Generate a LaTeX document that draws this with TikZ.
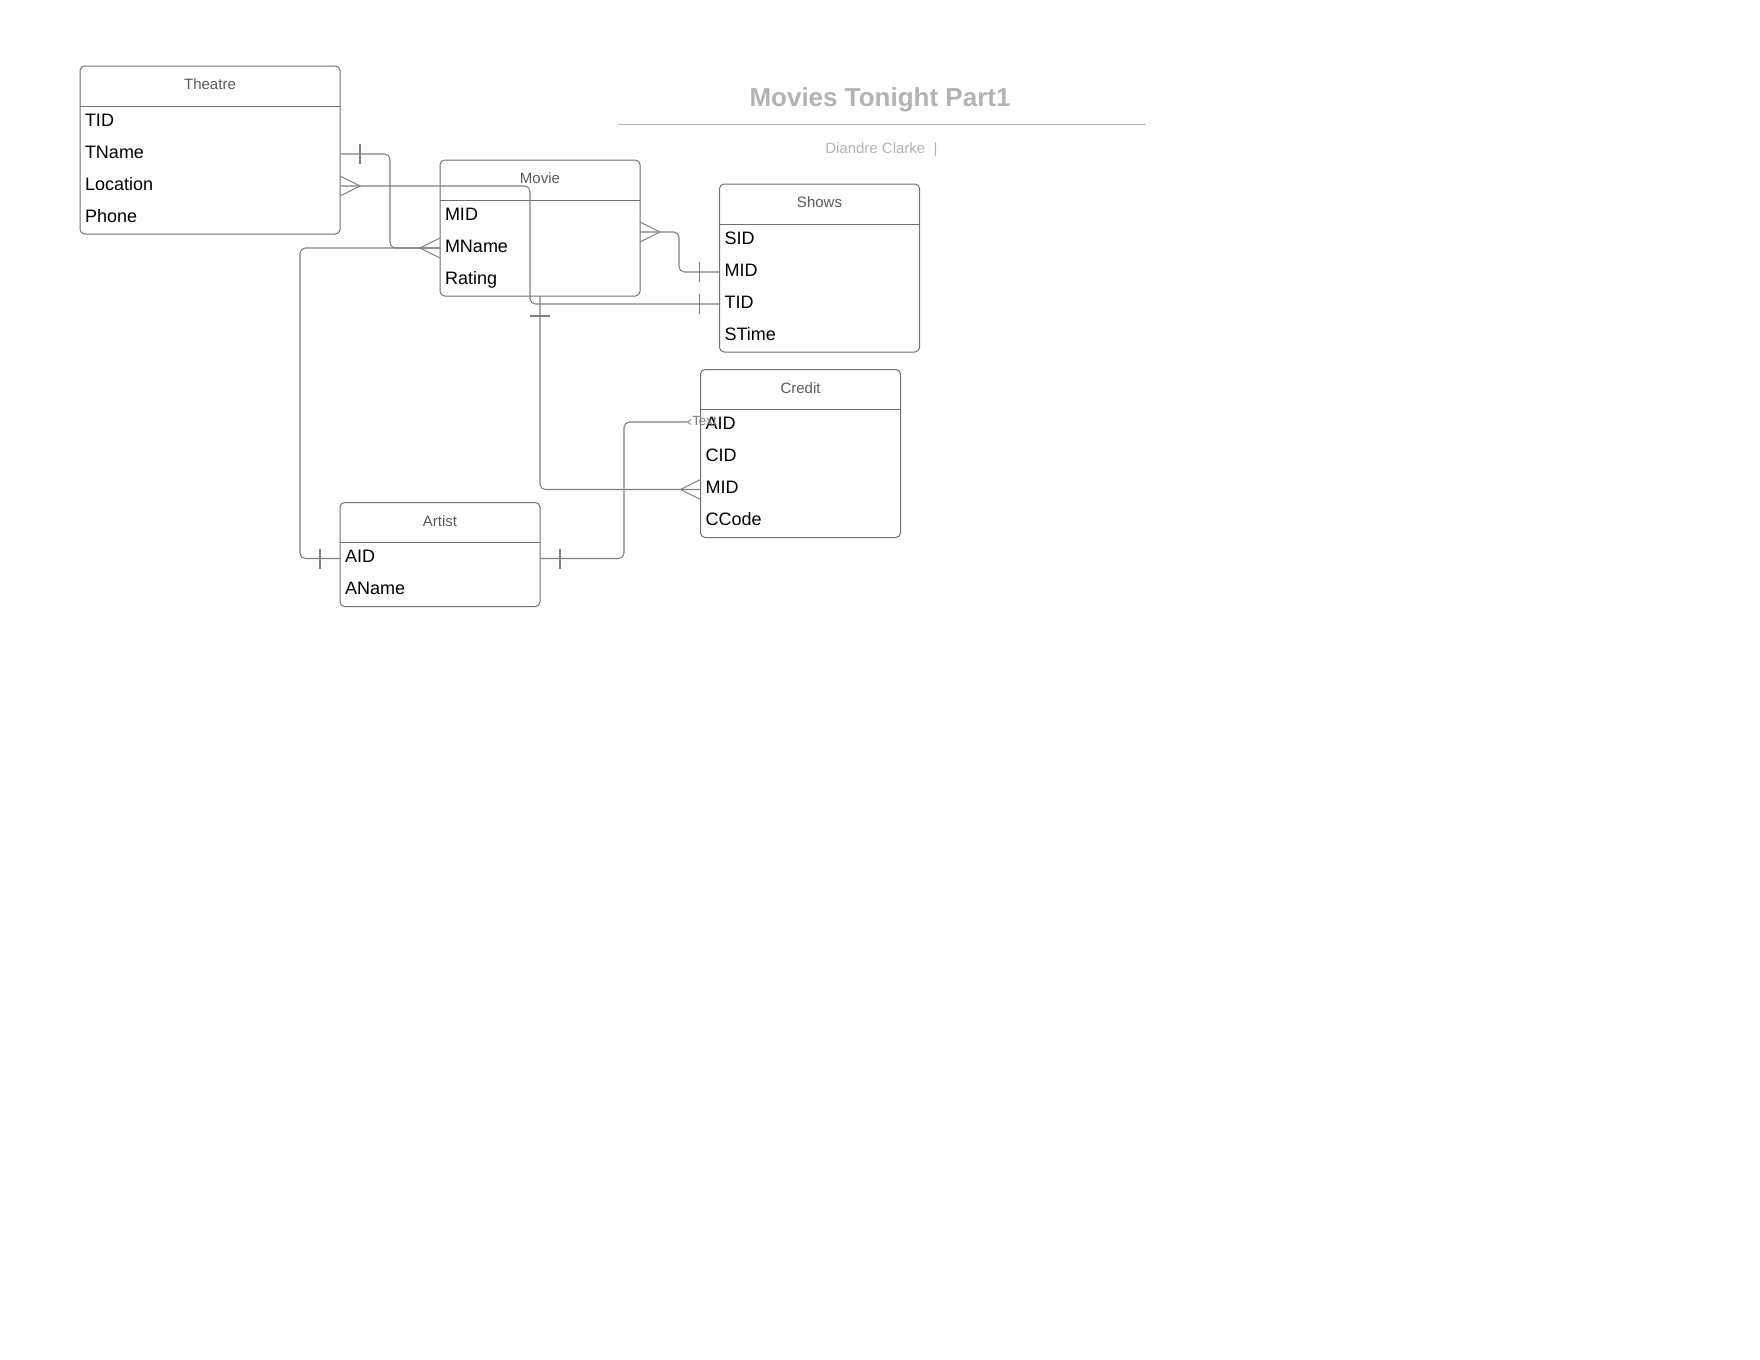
\documentclass[tikz,border=0pt]{standalone}
\usepackage{fontspec}
\setmainfont{Liberation Sans}
\usetikzlibrary{calc}
\definecolor{boxc}{HTML}{707070}
\definecolor{linec}{HTML}{808080}
\definecolor{hdrc}{HTML}{5A5A5A}
\definecolor{titc}{HTML}{B3B3B3}
\definecolor{labc}{HTML}{7A7A7A}
\begin{document}
\begin{tikzpicture}[x=0.75pt,y=-0.75pt,
  ent/.style={draw=boxc,line width=0.75pt,rounded corners=3.5pt,inner sep=0pt,outer sep=0pt,anchor=north west,fill=white},
  hdr/.style={text=hdrc,font=\fontsize{11.25}{13}\selectfont,anchor=base,inner sep=0pt},
  fieldrow/.style={anchor=north west,inner xsep=3.75pt,inner ysep=0pt,outer sep=0pt,minimum height=24pt,text height=9.5pt,text depth=3.0pt,align=left,font=\fontsize{13.5}{16}\selectfont},
  wide/.style={text width=187.5pt},
  narrow/.style={text width=142.5pt},
  sepl/.style={draw=boxc,line width=0.75pt},
  conn/.style={draw=linec,line width=0.8pt,rounded corners=4pt},
  tickmk/.style={draw=linec,line width=0.8pt},
]
\useasboundingbox (0,0) rectangle (1760,1360);

% ---------- title ----------
\node[font=\bfseries\fontsize{19.5}{22}\selectfont,text=titc,anchor=base,inner sep=0pt] (title) at (880,106.5) {Movies Tonight Part1};
\coordinate (tl) at (618,124.6);
\coordinate (tr) at (1146,124.6);
\draw[draw=titc,line width=1.1pt] (tl) -- (tr);
\node[text=titc,font=\fontsize{11.25}{13}\selectfont,anchor=base west,inner sep=0pt] (author) at (825,153) {Diandre Clarke\ \ |};

% ---------- Theatre ----------
\node[ent,minimum width=195pt,minimum height=126pt] (theatre) at (80,66) {};
\node[hdr] (theatreT) at (210,89.5) {Theatre};
\node[fieldrow,wide] (thTID) at (80,106) {TID};
\node[fieldrow,wide] (thTName) at (thTID.south west) {TName};
\node[fieldrow,wide] (thLoc) at (thTName.south west) {Location};
\node[fieldrow,wide] (thPhone) at (thLoc.south west) {Phone};
\draw[sepl] (thTID.north west) -- (thTID.north east);

% ---------- Movie ----------
\node[ent,minimum width=150pt,minimum height=102pt] (movie) at (440,160) {};
\node[hdr] (movieT) at (540,183.5) {Movie};
\node[fieldrow,narrow] (mvMID) at (440,200) {MID};
\node[fieldrow,narrow] (mvMName) at (mvMID.south west) {MName};
\node[fieldrow,narrow] (mvRating) at (mvMName.south west) {Rating};
\draw[sepl] (mvMID.north west) -- (mvMID.north east);

% ---------- Shows ----------
\node[ent,minimum width=150pt,minimum height=126pt] (shows) at (719.5,184) {};
\node[hdr] (showsT) at (819.5,207.5) {Shows};
\node[fieldrow,narrow] (shSID) at (719.5,224) {SID};
\node[fieldrow,narrow] (shMID) at (shSID.south west) {MID};
\node[fieldrow,narrow] (shTID) at (shMID.south west) {TID};
\node[fieldrow,narrow] (shSTime) at (shTID.south west) {STime};
\draw[sepl] (shSID.north west) -- (shSID.north east);

% ---------- Credit ----------
\node[ent,minimum width=150pt,minimum height=126pt] (credit) at (700.5,369.5) {};
\node[hdr] (creditT) at (800.5,393) {Credit};
\node[fieldrow,narrow] (crAID) at (700.5,409.5) {AID};
\node[fieldrow,narrow] (crCID) at (crAID.south west) {CID};
\node[fieldrow,narrow] (crMID) at (crCID.south west) {MID};
\node[fieldrow,narrow] (crCCode) at (crMID.south west) {CCode};
\draw[sepl] (crAID.north west) -- (crAID.north east);

% ---------- Artist ----------
\node[ent,minimum width=150pt,minimum height=78pt] (artist) at (340,502.5) {};
\node[hdr] (artistT) at (440,526) {Artist};
\node[fieldrow,narrow] (arAID) at (340,542.5) {AID};
\node[fieldrow,narrow] (arAName) at (arAID.south west) {AName};
\draw[sepl] (arAID.north west) -- (arAID.north east);

% ---------- connectors ----------
% Theatre.TName (one) -- Movie.MName (many)
\draw[conn] (thTName.east) -- ++(50,0) |- (mvMName.west);
\draw[tickmk] ($(thTName.east)+(20,-10)$) -- ++(0,20);
\draw[tickmk] ($(mvMName.west)+(0,-10)$) -- ($(mvMName.west)+(-20,0)$) -- ($(mvMName.west)+(0,10)$);

% Movie.MName -- Artist.AID (one)
\draw[conn] (mvMName.west) -- ++(-140,0) |- (arAID.west);
\draw[tickmk] ($(arAID.west)+(-20,-10)$) -- ++(0,20);

% Theatre.Location (many) -- Shows.TID (one)
\draw[conn] (thLoc.east) -- ++(190,0) |- (shTID.west);
\draw[tickmk] ($(thLoc.east)+(0,-10)$) -- ($(thLoc.east)+(20,0)$) -- ($(thLoc.east)+(0,10)$);
\draw[tickmk] ($(shTID.west)+(-20,-10)$) -- ++(0,20);

% Movie (many) -- Shows.MID (one)
\draw[conn] (mvMID.south east) -- ++(39,0) |- (shMID.west);
\draw[tickmk] ($(mvMID.south east)+(0,-10)$) -- ($(mvMID.south east)+(20,0)$) -- ($(mvMID.south east)+(0,10)$);
\draw[tickmk] ($(shMID.west)+(-20,-10)$) -- ++(0,20);

% Movie (one) -- Credit.MID (many)
\draw[conn] (movie.south) |- (crMID.west);
\draw[tickmk] ($(movie.south)+(-10,20)$) -- ++(20,0);
\draw[tickmk] ($(crMID.west)+(0,-10)$) -- ($(crMID.west)+(-20,0)$) -- ($(crMID.west)+(0,10)$);

% Artist.AID (one) -- Credit.AID (label "Text")
\coordinate (crAIDend) at ($(crAID.west)+(-13,-3.5)$);
\draw[conn] (arAID.east) -- ++(84,0) |- (crAIDend);
\draw[tickmk] ($(arAID.east)+(20,-10)$) -- ++(0,20);
\draw[tickmk,line width=0.6pt] ($(crAIDend)+(3.5,-2.5)$) -- (crAIDend) -- ($(crAIDend)+(3.5,2.5)$);
\node[text=labc,font=\fontsize{10}{12}\selectfont,anchor=base west,inner sep=0pt] (txtlbl) at (692,425) {Text};

\end{tikzpicture}
\end{document}
